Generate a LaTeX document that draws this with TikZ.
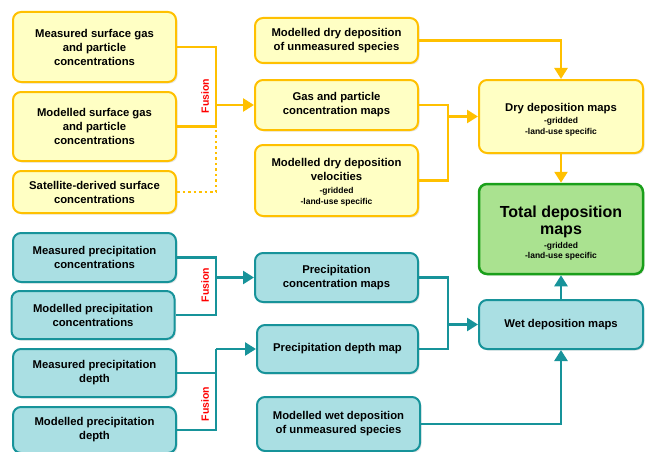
\documentclass[tikz,border=0pt]{standalone}
\usepackage{fontspec}
\setmainfont{Liberation Sans}
\usetikzlibrary{arrows.meta,shadows}
\definecolor{ybord}{HTML}{FFC000}
\definecolor{yfill}{HTML}{FFFFC4}
\definecolor{tbord}{HTML}{17939A}
\definecolor{tfill}{HTML}{AADFE3}
\definecolor{gbord}{HTML}{1A9F1A}
\definecolor{gfill}{HTML}{AAE290}
\newcommand{\subfont}{\fontsize{8.5}{10}\selectfont}

\begin{document}
\begin{tikzpicture}[x=1pt,y=-1pt,
  box/.style={rounded corners=8pt, line width=2pt, align=center, inner sep=2pt,
    font=\fontsize{11.3}{14}\selectfont\bfseries, minimum width=163pt,
    drop shadow={shadow xshift=1.5pt,shadow yshift=-1.5pt,opacity=0.2}},
  ybox/.style={box, draw=ybord, fill=yfill},
  tbox/.style={box, draw=tbord, fill=tfill},
  gbox/.style={box, draw=gbord, fill=gfill, line width=2.5pt, font=\fontsize{16}{15}\selectfont\bfseries},
  yline/.style={draw=ybord, line width=2.5pt},
  tline/.style={draw=tbord, line width=2.5pt},
  tip/.style={-{Triangle[length=11pt,width=13pt]}},
  fusion/.style={text=red, rotate=90, font=\fontsize{10.5}{12}\selectfont\bfseries}]
  \useasboundingbox (0,0) rectangle (645,452);

  %%%%% DRY PART %%%%%
  \node[ybox, minimum height=70pt] (meassurf) at (94.5,47) {Measured surface gas\\and particle\\concentrations};
  \node[ybox, minimum height=69pt] (modsurf) at (94.5,126.5) {Modelled surface gas\\and particle\\concentrations};
  \node[ybox, minimum height=42pt] (satsurf) at (94.5,192) {Satellite-derived surface\\concentrations};

  \node[ybox, minimum height=45pt] (moddry) at (336.5,40.5) {Modelled dry deposition\\of unmeasured species};
  \node[ybox, minimum height=50pt] (gasconc) at (336.5,105) {Gas and particle\\concentration maps};
  \node[ybox, minimum height=71pt] (dryvel) at (336.5,180.5) {\rule{0pt}{12pt}Modelled dry deposition\\velocities\\[-1pt] \subfont -gridded\\[-3pt] \subfont -land-use specific};

  \node[ybox, minimum width=164pt, minimum height=73pt] (drymaps) at (561,116.5) {\rule{0pt}{14pt}Dry deposition maps\\[-2pt] \subfont -gridded\\[-3pt] \subfont -land-use specific};
  \node[gbox, minimum width=164pt, minimum height=90pt] (total) at (561,229) {\rule{0pt}{19pt}Total deposition\\[2pt]maps\\[-1pt] \subfont -gridded\\[-5pt] \subfont -land-use specific};

  \coordinate (fusdry) at (216,105);
  \draw[yline] (meassurf.east) -| (fusdry);
  \draw[yline] (modsurf.east) -| (fusdry);
  \draw[yline, tip] (fusdry) -- (gasconc.west);
  \draw[yline, line width=2.5pt, dash pattern=on 2.5pt off 3pt] (satsurf.east) -| (modsurf.east -| fusdry);
  \node[fusion] (fusdrylbl) at (205,96) {Fusion};

  \coordinate (joindry) at (448,116.5);
  \draw[yline] (gasconc.east) -| (joindry);
  \draw[yline] (dryvel.east) -| (joindry);
  \draw[yline, tip] (joindry) -- (drymaps.west);
  \draw[yline, tip] (moddry.east) -| (drymaps.north);
  \draw[yline, tip] (drymaps.south) -- (total.north);

  %%%%% WET PART %%%%%
  \node[tbox, minimum height=49pt] (measpc) at (94.5,257.5) {Measured precipitation\\concentrations};
  \node[tbox, minimum height=48pt] (modpc) at (93,315) {Modelled precipitation\\concentrations};
  \node[tbox, minimum height=48pt] (measpd) at (94.5,373) {Measured precipitation\\depth};
  \node[tbox, minimum height=46pt] (modpd) at (94.5,430) {Modelled precipitation\\depth};

  \node[tbox, minimum height=49pt] (pconc) at (336.5,277.5) {Precipitation\\concentration maps};
  \node[tbox, minimum width=161pt, minimum height=48pt] (pdepth) at (337.5,349) {Precipitation depth map};
  \node[tbox, minimum height=54pt] (modwet) at (338.5,424) {Modelled wet deposition\\of unmeasured species};

  \node[tbox, minimum width=164pt, minimum height=49pt] (wetmaps) at (561,324.5) {Wet deposition maps};

  \coordinate (fuspc) at (216,277.5);
  \draw[tline] (measpc.east) -| (fuspc);
  \draw[tline] (modpc.east) -| (fuspc);
  \draw[tline, tip] (fuspc) -- (pconc.west);
  \node[fusion] (fuspclbl) at (205,285) {Fusion};

  \coordinate (fuspd) at (216,349);
  \draw[tline] (modpd.east) -| (fuspd);
  \draw[tline] (measpd.east) -- (measpd.east -| fuspd);
  \draw[tline, tip] (fuspd) -- (pdepth.west);
  \node[fusion] (fuspdlbl) at (205,404) {Fusion};

  \coordinate (joinwet) at (448,324.5);
  \draw[tline] (pconc.east) -| (joinwet);
  \draw[tline] (pdepth.east) -| (joinwet);
  \draw[tline, tip] (joinwet) -- (wetmaps.west);
  \draw[tline, tip] (modwet.east) -| (wetmaps.south);
  \draw[tline, tip] (wetmaps.north) -- (total.south);
\end{tikzpicture}
\end{document}
